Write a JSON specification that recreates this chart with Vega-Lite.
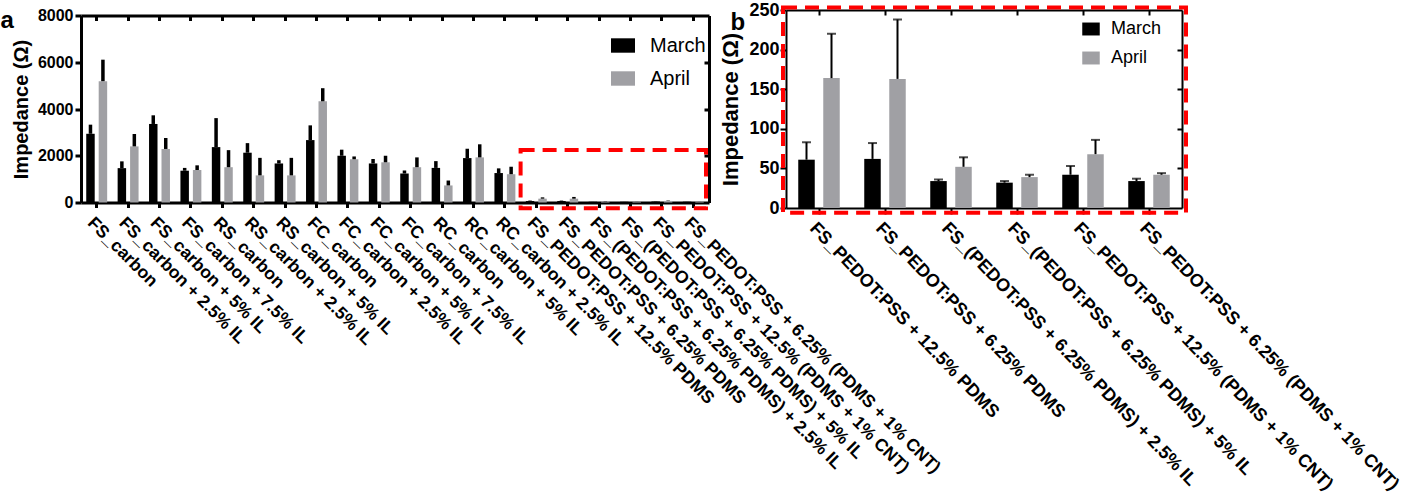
{
  "$schema": "https://vega.github.io/schema/vega-lite/v6.json",
  "autosize": {"type": "pad"},
  "padding": {"left": 0, "top": 1, "right": 0, "bottom": 0},
  "config": {
    "font": "Liberation Sans",
    "view": {"stroke": null},
    "axis": {"domainColor": "black", "tickColor": "black", "labelColor": "black", "titleColor": "black", "grid": false}
  },
  "datasets": {
    "imp": [
      {"cat": "FS_carbon", "series": "March", "value": 2940, "upper": 3330, "p": 0},
      {"cat": "FS_carbon", "series": "April", "value": 5190, "upper": 6110, "p": 0},
      {"cat": "FS_carbon + 2.5% IL", "series": "March", "value": 1470, "upper": 1760, "p": 0},
      {"cat": "FS_carbon + 2.5% IL", "series": "April", "value": 2400, "upper": 2930, "p": 0},
      {"cat": "FS_carbon + 5% IL", "series": "March", "value": 3360, "upper": 3730, "p": 0},
      {"cat": "FS_carbon + 5% IL", "series": "April", "value": 2290, "upper": 2760, "p": 0},
      {"cat": "FS_carbon + 7.5% IL", "series": "March", "value": 1360, "upper": 1480, "p": 0},
      {"cat": "FS_carbon + 7.5% IL", "series": "April", "value": 1390, "upper": 1590, "p": 0},
      {"cat": "RS_carbon", "series": "March", "value": 2370, "upper": 3610, "p": 0},
      {"cat": "RS_carbon", "series": "April", "value": 1510, "upper": 2240, "p": 0},
      {"cat": "RS_carbon + 2.5% IL", "series": "March", "value": 2130, "upper": 2540, "p": 0},
      {"cat": "RS_carbon + 2.5% IL", "series": "April", "value": 1160, "upper": 1910, "p": 0},
      {"cat": "RS_carbon + 5% IL", "series": "March", "value": 1670, "upper": 1810, "p": 0},
      {"cat": "RS_carbon + 5% IL", "series": "April", "value": 1160, "upper": 1910, "p": 0},
      {"cat": "FC_carbon", "series": "March", "value": 2670, "upper": 3300, "p": 0},
      {"cat": "FC_carbon", "series": "April", "value": 4330, "upper": 4890, "p": 0},
      {"cat": "FC_carbon + 2.5% IL", "series": "March", "value": 2000, "upper": 2260, "p": 0},
      {"cat": "FC_carbon + 2.5% IL", "series": "April", "value": 1850, "upper": 1970, "p": 0},
      {"cat": "FC_carbon + 5% IL", "series": "March", "value": 1670, "upper": 1860, "p": 0},
      {"cat": "FC_carbon + 5% IL", "series": "April", "value": 1720, "upper": 2000, "p": 0},
      {"cat": "FC_carbon + 7.5% IL", "series": "March", "value": 1240, "upper": 1370, "p": 0},
      {"cat": "FC_carbon + 7.5% IL", "series": "April", "value": 1510, "upper": 1930, "p": 0},
      {"cat": "RC_carbon", "series": "March", "value": 1480, "upper": 1770, "p": 0},
      {"cat": "RC_carbon", "series": "April", "value": 730, "upper": 940, "p": 0},
      {"cat": "RC_carbon + 5% IL", "series": "March", "value": 1900, "upper": 2300, "p": 0},
      {"cat": "RC_carbon + 5% IL", "series": "April", "value": 1930, "upper": 2490, "p": 0},
      {"cat": "RC_carbon + 2.5% IL", "series": "March", "value": 1260, "upper": 1460, "p": 0},
      {"cat": "RC_carbon + 2.5% IL", "series": "April", "value": 1210, "upper": 1530, "p": 0},
      {"cat": "FS_PEDOT:PSS + 12.5% PDMS", "series": "March", "value": 61, "upper": 83, "p": 1},
      {"cat": "FS_PEDOT:PSS + 12.5% PDMS", "series": "April", "value": 164, "upper": 220, "p": 1},
      {"cat": "FS_PEDOT:PSS + 6.25% PDMS", "series": "March", "value": 62, "upper": 82, "p": 1},
      {"cat": "FS_PEDOT:PSS + 6.25% PDMS", "series": "April", "value": 163, "upper": 238, "p": 1},
      {"cat": "FS_(PEDOT:PSS + 6.25% PDMS) + 2.5% IL", "series": "March", "value": 34, "upper": 36, "p": 1},
      {"cat": "FS_(PEDOT:PSS + 6.25% PDMS) + 2.5% IL", "series": "April", "value": 52, "upper": 64, "p": 1},
      {"cat": "FS_(PEDOT:PSS + 6.25% PDMS) + 5% IL", "series": "March", "value": 32, "upper": 34, "p": 1},
      {"cat": "FS_(PEDOT:PSS + 6.25% PDMS) + 5% IL", "series": "April", "value": 39, "upper": 42, "p": 1},
      {"cat": "FS_PEDOT:PSS + 12.5% (PDMS + 1% CNT)", "series": "March", "value": 42, "upper": 53, "p": 1},
      {"cat": "FS_PEDOT:PSS + 12.5% (PDMS + 1% CNT)", "series": "April", "value": 68, "upper": 86, "p": 1},
      {"cat": "FS_PEDOT:PSS + 6.25% (PDMS + 1% CNT)", "series": "March", "value": 34, "upper": 37, "p": 1},
      {"cat": "FS_PEDOT:PSS + 6.25% (PDMS + 1% CNT)", "series": "April", "value": 42, "upper": 44, "p": 1}
    ],
    "boxA": [{"x0": "FS_PEDOT:PSS + 12.5% PDMS", "x1": "FS_PEDOT:PSS + 6.25% (PDMS + 1% CNT)", "y0": -250, "y1": 2250}],
    "boxB": [{"x0": "FS_PEDOT:PSS + 12.5% PDMS", "x1": "FS_PEDOT:PSS + 6.25% (PDMS + 1% CNT)", "y0": -6, "y1": 253}]
  },
  "bounds": "flush",
  "spacing": 77,
  "center": true,
  "resolve": {
    "scale": {"x": "independent", "y": "independent", "xOffset": "independent", "color": "independent"},
    "legend": {"color": "independent"}
  },
  "hconcat": [
    {
      "width": 628,
      "height": 187,
      "resolve": {"axis": {"x": "independent", "y": "independent"}},
      "layer": [
        {
          "data": {"name": "imp"},
          "mark": {"type": "bar"},
          "encoding": {
            "x": {
              "field": "cat", "type": "nominal",
              "scale": {"domain": ["FS_carbon","FS_carbon + 2.5% IL","FS_carbon + 5% IL","FS_carbon + 7.5% IL","RS_carbon","RS_carbon + 2.5% IL","RS_carbon + 5% IL","FC_carbon","FC_carbon + 2.5% IL","FC_carbon + 5% IL","FC_carbon + 7.5% IL","RC_carbon","RC_carbon + 5% IL","RC_carbon + 2.5% IL","FS_PEDOT:PSS + 12.5% PDMS","FS_PEDOT:PSS + 6.25% PDMS","FS_(PEDOT:PSS + 6.25% PDMS) + 2.5% IL","FS_(PEDOT:PSS + 6.25% PDMS) + 5% IL","FS_PEDOT:PSS + 12.5% (PDMS + 1% CNT)","FS_PEDOT:PSS + 6.25% (PDMS + 1% CNT)"], "paddingInner": 0, "paddingOuter": 0},
              "axis": {"orient": "bottom", "title": null, "labelAngle": 45, "labelAlign": "left", "labelBaseline": "top", "labelFontSize": 17.5, "labelFontWeight": "bold", "labelPadding": 6, "labelLimit": 0, "tickSize": 5, "tickWidth": 3, "domainWidth": 3}
            },
            "xOffset": {"field": "series", "type": "nominal", "scale": {"domain": ["March", "April"], "paddingInner": 0.32, "paddingOuter": 0.42}},
            "y": {
              "field": "value", "type": "quantitative",
              "scale": {"domain": [0, 8000], "nice": false},
              "axis": {"orient": "left", "title": "Impedance (Ω)", "titleFontSize": 20, "titleFontWeight": "bold", "titlePadding": 6, "values": [0, 2000, 4000, 6000, 8000], "format": "d", "labelFontSize": 16, "labelFontWeight": "bold", "labelPadding": 2, "tickSize": 6, "tickWidth": 3, "domainWidth": 3}
            },
            "color": {
              "field": "series", "type": "nominal",
              "scale": {"domain": ["March", "April"], "range": ["#000000", "#a0a0a4"]},
              "legend": {"orient": "none", "legendX": 530, "legendY": 18, "title": null, "symbolType": "M-1,-0.6L1,-0.6L1,0.6L-1,0.6Z", "symbolSize": 576, "symbolStrokeWidth": 0, "labelFontSize": 20, "labelColor": "black", "rowPadding": 11, "labelOffset": 15, "padding": 0}
            }
          }
        },
        {
          "data": {"name": "imp"},
          "mark": {"type": "rule", "strokeWidth": 3.5, "color": "black"},
          "encoding": {
            "x": {"field": "cat", "type": "nominal", "axis": {"orient": "top", "labels": false, "title": null, "tickSize": -5, "tickWidth": 3, "domainWidth": 3}},
            "xOffset": {"field": "series", "type": "nominal"},
            "y": {"field": "value", "type": "quantitative", "axis": {"orient": "right", "labels": false, "title": null, "values": [2000, 4000, 6000], "tickSize": -5, "tickWidth": 3, "domainWidth": 3}},
            "y2": {"field": "upper"}
          }
        },
        {
          "data": {"name": "boxA"},
          "mark": {"type": "rect", "fill": "transparent", "stroke": "#ff0000", "strokeWidth": 4, "strokeDash": [14, 8], "x2Offset": -3},
          "encoding": {
            "x": {"field": "x0", "type": "nominal", "bandPosition": 0, "axis": null},
            "x2": {"field": "x1", "bandPosition": 1},
            "y": {"field": "y0", "type": "quantitative", "axis": {"orient": "left", "title": "a", "titleAngle": 0, "titleX": -81, "titleY": 12, "titleAlign": "left", "titleBaseline": "alphabetic", "titleFontSize": 24, "titleFontWeight": "bold", "domain": false, "ticks": false, "labels": false}},
            "y2": {"field": "y1"}
          }
        }
      ]
    },
    {
      "width": 396,
      "height": 198,
      "resolve": {"axis": {"x": "independent", "y": "independent"}},
      "layer": [
        {
          "data": {"name": "imp"},
          "transform": [{"filter": "datum.p == 1"}],
          "mark": {"type": "bar"},
          "encoding": {
            "x": {
              "field": "cat", "type": "nominal",
              "scale": {"domain": ["FS_PEDOT:PSS + 12.5% PDMS","FS_PEDOT:PSS + 6.25% PDMS","FS_(PEDOT:PSS + 6.25% PDMS) + 2.5% IL","FS_(PEDOT:PSS + 6.25% PDMS) + 5% IL","FS_PEDOT:PSS + 12.5% (PDMS + 1% CNT)","FS_PEDOT:PSS + 6.25% (PDMS + 1% CNT)"], "paddingInner": 0, "paddingOuter": 0},
              "axis": {"orient": "bottom", "title": null, "labelAngle": 46, "labelAlign": "left", "labelBaseline": "top", "labelFontSize": 18, "labelFontWeight": "bold", "labelPadding": 5, "labelLimit": 0, "tickSize": 6, "tickWidth": 2, "domainWidth": 2}
            },
            "xOffset": {"field": "series", "type": "nominal", "scale": {"domain": ["March", "April"], "paddingInner": 0.34, "paddingOuter": 0.49}},
            "y": {
              "field": "value", "type": "quantitative",
              "scale": {"domain": [0, 250], "nice": false},
              "axis": {"orient": "left", "title": "Impedance (Ω)", "titleFontSize": 22, "titleFontWeight": "bold", "titlePadding": 6, "values": [0, 50, 100, 150, 200, 250], "labelFontSize": 18, "labelFontWeight": "bold", "labelPadding": 1, "tickSize": 6, "tickWidth": 2, "domainWidth": 2}
            },
            "color": {
              "field": "series", "type": "nominal",
              "scale": {"domain": ["March", "April"], "range": ["#000000", "#a0a0a4"]},
              "legend": {"orient": "none", "legendX": 296, "legendY": 10, "title": null, "symbolType": "M-1,-0.74L1,-0.74L1,0.74L-1,0.74Z", "symbolSize": 306, "symbolStrokeWidth": 0, "labelFontSize": 18, "labelColor": "black", "rowPadding": 11, "labelOffset": 11, "padding": 0}
            }
          }
        },
        {
          "data": {"name": "imp"},
          "transform": [{"filter": "datum.p == 1"}],
          "mark": {"type": "rule", "strokeWidth": 2, "color": "black"},
          "encoding": {
            "x": {"field": "cat", "type": "nominal", "axis": {"orient": "top", "labels": false, "title": null, "tickSize": -5, "tickWidth": 2, "domainWidth": 2}},
            "xOffset": {"field": "series", "type": "nominal"},
            "y": {"field": "value", "type": "quantitative", "axis": {"orient": "right", "labels": false, "title": null, "values": [50, 100, 150, 200], "tickSize": -5, "tickWidth": 2, "domainWidth": 2}},
            "y2": {"field": "upper"}
          }
        },
        {
          "data": {"name": "imp"},
          "transform": [{"filter": "datum.p == 1"}],
          "mark": {"type": "tick", "thickness": 2, "size": 9, "color": "black"},
          "encoding": {
            "x": {"field": "cat", "type": "nominal", "axis": null},
            "xOffset": {"field": "series", "type": "nominal"},
            "y": {"field": "upper", "type": "quantitative", "axis": null}
          }
        },
        {
          "data": {"name": "boxB"},
          "mark": {"type": "rect", "fill": "transparent", "stroke": "#ff0000", "strokeWidth": 4, "strokeDash": [14, 8], "xOffset": -3, "x2Offset": 4},
          "encoding": {
            "x": {"field": "x0", "type": "nominal", "bandPosition": 0, "axis": null},
            "x2": {"field": "x1", "bandPosition": 1},
            "y": {"field": "y0", "type": "quantitative", "axis": {"orient": "left", "title": "b", "titleAngle": 0, "titleX": -56, "titleY": 19, "titleAlign": "left", "titleBaseline": "alphabetic", "titleFontSize": 24, "titleFontWeight": "bold", "domain": false, "ticks": false, "labels": false}},
            "y2": {"field": "y1"}
          }
        }
      ]
    }
  ]
}
